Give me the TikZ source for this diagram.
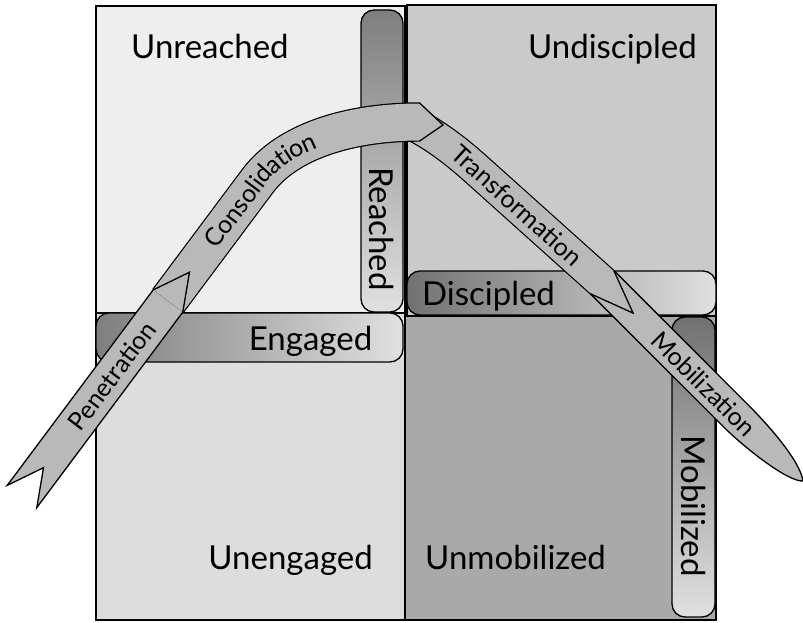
\documentclass[tikz,border=0pt]{standalone}
\usepackage{fontspec}
\setmainfont{Lato}
\usetikzlibrary{decorations.text}
\definecolor{qtl}{HTML}{EEEEEE}
\definecolor{qtr}{HTML}{CACACA}
\definecolor{qbl}{HTML}{DDDDDD}
\definecolor{qbr}{HTML}{A9A9A9}
\definecolor{ribc}{HTML}{B9B9B9}
\definecolor{bardark}{HTML}{7E7E7E}
\definecolor{barlight}{HTML}{E0E0E0}
\newcommand\bigfont{\fontsize{33}{38}\selectfont}
\newcommand\ribfont{\fontsize{25}{30}\selectfont}
\begin{document}
\begin{tikzpicture}[x=1pt,y=-1pt,
  quad/.style={draw=black,line width=1.4pt},
  bar/.style={draw=black,line width=1.3pt,rounded corners=13pt},
  biglabel/.style={font=\bigfont,inner sep=0pt},
  riblabel/.style={font=\ribfont,inner sep=0pt},
  ribfill/.style={fill=ribc},
  ribedge/.style={draw=black,line width=1.3pt,line join=miter},
  ribbonline/.style={draw=black,double=ribc,line width=1.2pt}]
\useasboundingbox (0,0) rectangle (803,623);
\fill[white] (0,0) rectangle (803,623);

% quadrants
\path[quad,fill=qtl] (96,6) rectangle (405,313);
\path[quad,fill=qtr] (407,5) rectangle (716,316);
\path[quad,fill=qbl] (96,313) rectangle (405,620);
\path[quad,fill=qbr] (405,316) rectangle (716,620);

% bars
\draw[bar,top color=bardark,bottom color=barlight] (361,10) rectangle (403,312);
\draw[bar,left color=bardark,right color=barlight] (96,313) rectangle (403,362);
\draw[bar,left color=bardark!110,right color=barlight] (407,271) rectangle (716,315);
\draw[bar,top color=bardark!110,bottom color=barlight] (672,317) rectangle (715,617);

% quadrant labels
\node[biglabel,anchor=base west] (unreached) at (131,59) {Unreached};
\node[biglabel,anchor=base east] (undiscipled) at (697,59) {Undiscipled};
\node[biglabel,anchor=base east] (unengaged) at (373,569) {Unengaged};
\node[biglabel,anchor=base west] (unmobilized) at (425,569) {Unmobilized};

% bar labels
\node[biglabel,rotate=-90] (reached) at (382,229) {Reached};
\node[biglabel,anchor=base] (engaged) at (310.5,350) {Engaged};
\node[biglabel,anchor=base] (discipled) at (488.5,305) {Discipled};
\node[biglabel,rotate=-90] (mobilized) at (693.5,506) {Mobilized};

% Penetration ribbon
\path[ribfill,ribedge] (43.5,467.7) -- (7.2,485.4) -- (159.2,281.9) -- (188.8,304.1) -- (36.8,507.6) -- cycle;

% Transformation ribbon
\draw[ribbonline,double distance=32pt] (403.2,119) .. controls (430.4,131.7) and (452.6,148.1) .. (475,168.1) -- (602.7,282.7);

% Consolidation ribbon
\draw[ribbonline,double distance=37pt] (168,301) -- (257.7,180.9) .. controls (287.6,140.9) and (350,122) .. (420,122);
\fill[ribc] (418.5,103.5) -- (420,103.5) -- (443,125) -- (420,140.5) -- (418.5,140.5) -- cycle;
\draw[ribedge] (419.5,102.9) -- (443,125) -- (419.5,141.1);
\draw[ribedge] (153.2,289.9) -- (189.5,272.2) -- (182.8,312.1);

% Mobilization ribbon
\fill[ribc] (613.7,270.3) -- (748,404.7) .. controls (765.7,422.4) and (800,460) .. (803,481)
   .. controls (788,482) and (745,448) .. (724.7,428) -- (590.3,293.7) -- cycle;
\draw[ribedge] (613.7,270.3) -- (748,404.7) .. controls (765.7,422.4) and (800,460) .. (803,481)
   .. controls (788,482) and (745,448) .. (724.7,428) -- (590.3,293.7);
\draw[ribedge] (613.7,270.3) -- (633.1,313.1) -- (590.3,293.7);

% ribbon labels
\node[riblabel,rotate=53] (penetration) at (112,376) {Penetration};
\path[decorate,decoration={text along path,text={|\ribfont|Consolidation},raise=-8.5pt}]
   (209.9,244.9) -- (257.7,180.9) .. controls (287.6,140.9) and (350,122) .. (420,122);
\node[riblabel,rotate=-42] (transformation) at (517,205.5) {Transformation};
\node[riblabel,rotate=-45] (mobilization) at (704,384) {Mobilization};
\end{tikzpicture}
\end{document}
